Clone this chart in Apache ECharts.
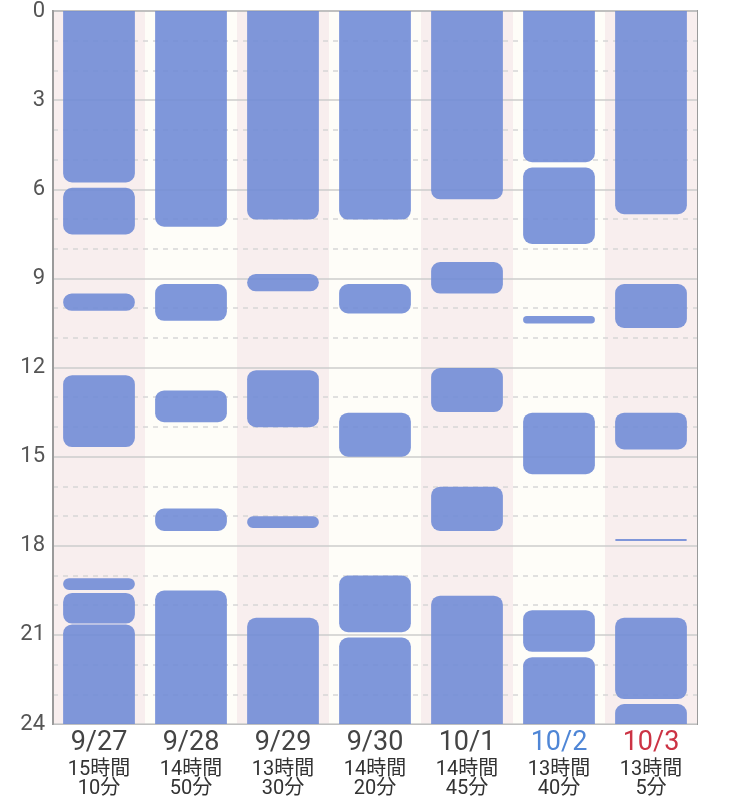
<!DOCTYPE html>
<html>
<head>
<meta charset="utf-8">
<script src="https://cdn.jsdelivr.net/npm/echarts@6/dist/echarts.min.js"></script>
<style>
html,body{margin:0;padding:0;background:#fff;}
#chart{width:750px;height:805px;}
</style>
</head>
<body>
<div id="chart"></div>
<script>
// Days (x categories)
const days = ['9/27', '9/28', '9/29', '9/30', '10/1', '10/2', '10/3'];
const dayColors = ['#444444', '#444444', '#444444', '#444444', '#444444', '#4f86d6', '#cc3344'];
// Total sleep labels
const totalHours = [15, 14, 13, 14, 14, 13, 13];
const totalMinutes = [10, 50, 30, 20, 45, 40, 5];
// Y ticks (hours of day)
const hourTicks = [0, 3, 6, 9, 12, 15, 18, 21, 24];

// Sleep segments per day: [start hour, end hour]
const sleep0927 = [[0, 5.77], [5.95, 7.52], [9.51, 10.09], [12.26, 14.68], [19.09, 19.49], [19.59, 20.62], [20.65, 24]];
const sleep0928 = [[0, 7.26], [9.19, 10.43], [12.77, 13.84], [16.75, 17.5], [19.51, 24]];
const sleep0929 = [[0, 7.02], [8.85, 9.43], [12.09, 14.01], [17.01, 17.4], [20.42, 24]];
const sleep0930 = [[0, 7.02], [9.19, 10.18], [13.52, 15.0], [19.0, 20.91], [21.09, 24]];
const sleep1001 = [[0, 6.34], [8.45, 9.51], [12.02, 13.5], [16.01, 17.5], [19.68, 24]];
const sleep1002 = [[0, 5.09], [5.27, 7.84], [10.27, 10.52], [13.52, 15.59], [20.17, 21.57], [21.75, 24]];
const sleep1003 = [[0, 6.84], [9.19, 10.67], [13.52, 14.76], [17.77, 17.84], [20.42, 23.16], [23.33, 24]];

const allSleep = [sleep0927, sleep0928, sleep0929, sleep0930, sleep1001, sleep1002, sleep1003];
const data = [];
allSleep.forEach((segs, i) => segs.forEach(s => data.push([i, s[0], s[1]])));

const FONT = "Roboto, 'Noto Sans CJK JP', sans-serif";

const chart = echarts.init(document.getElementById('chart'));
chart.setOption({
  animation: false,
  backgroundColor: '#ffffff',
  grid: { left: 53, right: 53, top: 9, bottom: 81, show: true, borderColor: '#9a9a9a', borderWidth: 2, backgroundColor: 'transparent' },
  xAxis: {
    type: 'category',
    data: days,
    z: 0,
    axisLine: { show: true, lineStyle: { color: '#9a9a9a', width: 2 } },
    axisTick: { show: false },
    splitArea: { show: true, areaStyle: { color: ['#f8eeee', '#fefdf8'] } },
    splitLine: { show: false },
    axisLabel: {
      margin: 2,
      interval: 0,
      formatter: function (v, idx) {
        return '{d' + idx + '|' + v + '}\n{t|' + totalHours[idx] + '時間}\n{t|' + totalMinutes[idx] + '分}';
      },
      rich: (function () {
        const r = { t: { fontSize: 20, lineHeight: 19, color: '#333', fontFamily: FONT } };
        dayColors.forEach((c, i) => { r['d' + i] = { fontSize: 27, lineHeight: 34, color: c, fontFamily: FONT }; });
        return r;
      })()
    }
  },
  yAxis: {
    type: 'value',
    inverse: true,
    min: 0,
    max: 24,
    interval: 3,
    z: 1,
    axisLine: { show: true, lineStyle: { color: '#9a9a9a', width: 2 } },
    axisTick: { show: false },
    axisLabel: { fontSize: 22, color: '#555', margin: 8, fontFamily: FONT,
      formatter: v => hourTicks.includes(v) ? String(v) : '' },
    splitLine: { show: true, lineStyle: { color: '#cccccc', width: 1.5 } },
    minorTick: { show: false, splitNumber: 3 },
    minorSplitLine: { show: true, lineStyle: { color: '#d6d6d6', width: 1.5, type: [5, 5] } }
  },
  series: [{
    type: 'custom',
    z: 2,
    data: data,
    encode: { x: 0, y: [1, 2] },
    renderItem: function (params, api) {
      const i = api.value(0);
      const s = api.value(1), e = api.value(2);
      const p0 = api.coord([i, s]);
      const p1 = api.coord([i, e]);
      const w = api.size([1, 0])[0] * 0.78;
      const h = p1[1] - p0[1];
      const rr = Math.min(9, h / 2);
      const rt = s <= 0 ? 0 : rr;
      const rb = e >= 24 ? 0 : rr;
      return {
        type: 'rect',
        shape: { x: p0[0] - w / 2, y: p0[1], width: w, height: h, r: [rt, rt, rb, rb] },
        style: { fill: 'rgba(113,140,214,0.9)' }
      };
    }
  }]
});
</script>
</body>
</html>
